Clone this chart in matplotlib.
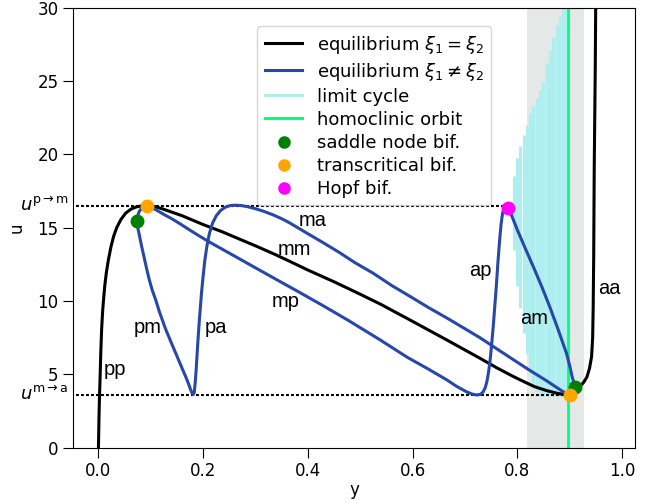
import numpy as np
import matplotlib
matplotlib.use("Agg")
import matplotlib.pyplot as plt

# equilibrium xi1 == xi2 (black)
sym_y = [0, 0.0005, 0.001, 0.002, 0.003, 0.0045, 0.006, 0.008, 0.010, 0.012,
         0.015, 0.019, 0.024, 0.029, 0.035, 0.043, 0.052, 0.062, 0.072, 0.082,
         0.091, 0.105, 0.12, 0.14, 0.16, 0.18, 0.20, 0.237, 0.27, 0.30,
         0.335, 0.365, 0.40, 0.45, 0.50, 0.54, 0.60, 0.664, 0.728, 0.76,
         0.792, 0.815, 0.833, 0.856, 0.878, 0.894, 0.902, 0.906, 0.910, 0.914,
         0.920, 0.926, 0.933, 0.938, 0.942, 0.944, 0.945, 0.946, 0.947, 0.949,
         0.950]
sym_u = [0, 1, 2, 3.5, 4.6, 6.5, 8.0, 9.3, 10.2, 11.0,
         11.9, 12.8, 13.7, 14.4, 15.0, 15.55, 15.98, 16.25, 16.4, 16.47,
         16.5, 16.45, 16.3, 16.05, 15.8, 15.5, 15.2, 14.7, 14.2, 13.75,
         13.2, 12.7, 12.1, 11.3, 10.45, 9.75, 8.6, 7.36, 6.1, 5.45,
         4.85, 4.45, 4.15, 3.88, 3.68, 3.6, 3.6, 3.65, 3.85, 4.05,
         4.2, 4.4, 4.8, 5.4, 6.2, 7.5, 9.5, 13, 19, 26,
         31]

# equilibrium xi1 != xi2, branch pm -> pa -> ma
asym1_y = [0.073, 0.075, 0.078, 0.082, 0.087, 0.092, 0.097, 0.103, 0.110, 0.116,
           0.122, 0.128, 0.135, 0.142, 0.148, 0.155, 0.161, 0.167, 0.172, 0.176,
           0.179, 0.181, 0.183, 0.185, 0.187, 0.189, 0.191, 0.193, 0.195, 0.197,
           0.200, 0.203, 0.207, 0.212, 0.218, 0.225, 0.233, 0.242, 0.252, 0.262,
           0.272, 0.285, 0.300, 0.316, 0.333, 0.35, 0.365, 0.38, 0.397, 0.43,
           0.46, 0.49, 0.524, 0.56, 0.60, 0.63, 0.665, 0.70, 0.729, 0.76,
           0.792, 0.82, 0.856, 0.875, 0.89, 0.901]
asym1_u = [15.46, 15.0, 14.5, 13.8, 13.0, 12.2, 11.45, 10.7, 10.0, 9.3,
           8.7, 8.1, 7.5, 6.9, 6.4, 5.8, 5.3, 4.8, 4.35, 3.95,
           3.7, 3.62, 3.75, 4.5, 5.5, 6.7, 7.8, 8.8, 9.7, 10.6,
           11.7, 12.7, 13.7, 14.6, 15.3, 15.8, 16.15, 16.38, 16.5, 16.52,
           16.5, 16.42, 16.28, 16.1, 15.87, 15.6, 15.32, 15.0, 14.64, 13.95,
           13.3, 12.6, 11.9, 11.05, 10.2, 9.55, 8.84, 8.1, 7.48, 6.75,
           6.0, 5.35, 4.55, 4.1, 3.75, 3.58]

# equilibrium xi1 != xi2, branch mp -> ap -> am
asym2_y = [0.073, 0.075, 0.078, 0.082, 0.087, 0.092, 0.098, 0.104, 0.115, 0.127,
           0.14, 0.156, 0.173, 0.19, 0.21, 0.23, 0.25, 0.275, 0.30, 0.34,
           0.383, 0.43, 0.478, 0.537, 0.59, 0.63, 0.665, 0.685, 0.703, 0.714,
           0.7224, 0.730, 0.735, 0.739, 0.742, 0.745, 0.748, 0.751, 0.754, 0.757,
           0.760, 0.763, 0.766, 0.769, 0.772, 0.776, 0.780, 0.783, 0.79, 0.80,
           0.815, 0.831, 0.847, 0.862, 0.878, 0.894, 0.900, 0.905, 0.911]
asym2_u = [15.46, 15.8, 16.1, 16.3, 16.42, 16.46, 16.42, 16.32, 16.1, 15.85,
           15.6, 15.25, 14.86, 14.48, 14.05, 13.65, 13.25, 12.75, 12.25, 11.45,
           10.6, 9.65, 8.65, 7.36, 6.15, 5.35, 4.62, 4.15, 3.8, 3.64,
           3.58, 3.63, 3.8, 4.1, 4.5, 5.1, 5.9, 7.0, 8.2, 9.6,
           11.0, 12.6, 14.0, 15.2, 16.0, 16.38, 16.4, 16.35, 15.75, 14.85,
           13.6, 12.3, 10.95, 9.6, 8.05, 6.42, 5.6, 4.8, 4.1]

# limit cycle extent (min/max u) per parameter value
lc_y = [0.793, 0.799, 0.805, 0.812, 0.818, 0.824, 0.831, 0.837, 0.843,
        0.849, 0.856, 0.862, 0.868, 0.875, 0.881, 0.887, 0.894]
lc_lo = [13.5, 11.0, 9.5, 7.8, 6.4, 5.0, 4.2, 3.85, 3.5,
         3.5, 3.5, 3.5, 3.5, 3.5, 3.5, 3.5, 3.5]
lc_hi = [18.5, 19.75, 20.55, 21.3, 22.0, 22.8, 23.3, 23.8, 24.4,
         24.9, 26.2, 27.1, 28.0, 28.8, 29.4, 30.5, 30.5]

homoclinic_y = 0.8975
region_y = [0.818, 0.927]

# bifurcation points
sn_y = [0.073, 0.911]
sn_u = [15.46, 4.1]
tc_y = [0.092, 0.901]
tc_u = [16.46, 3.58]
hopf_y = [0.783]
hopf_u = [16.35]

u_pm = 16.5
u_ma = 3.6

branch_names = ["pp", "pm", "pa", "ma", "mm", "mp", "ap", "am", "aa"]
branch_y = [0.031, 0.095, 0.224, 0.409, 0.374, 0.358, 0.729, 0.832, 0.976]
branch_u = [5.3, 8.2, 8.2, 15.45, 13.5, 9.94, 12.05, 8.8, 10.85]

blue = "#2748a8"

fig = plt.figure(figsize=(6.57, 5.04), dpi=100)
ax = fig.add_axes([0.1116, 0.1121, 0.855, 0.873])

ax.axvspan(region_y[0], region_y[1], color="#e4e9e8", lw=0, zorder=0)
ax.vlines(lc_y, lc_lo, lc_hi, color="paleturquoise", lw=2.3, zorder=1)
ax.axvline(homoclinic_y, color="springgreen", lw=2, zorder=2)

ax.plot([-0.1, hopf_y[0]], [u_pm, u_pm], color="black", lw=1.5,
        ls=(0, (1.4, 1)), zorder=2)
ax.plot([-0.1, tc_y[1]], [u_ma, u_ma], color="black", lw=1.5,
        ls=(0, (1.4, 1)), zorder=2)

ax.plot(sym_y, sym_u, color="black", lw=2.2, zorder=3)
ax.plot(asym1_y, asym1_u, color=blue, lw=2.2, zorder=3)
ax.plot(asym2_y, asym2_u, color=blue, lw=2.2, zorder=3)

ax.plot(sn_y, sn_u, "o", color="green", ms=9, zorder=5)
ax.plot(tc_y, tc_u, "o", color="orange", ms=9, zorder=5)
ax.plot(hopf_y, hopf_u, "o", color="magenta", ms=9, zorder=5)

for name, x, y in zip(branch_names, branch_y, branch_u):
    ax.text(x, y, name, ha="center", va="center", fontsize=14.5,
            family="Liberation Sans")

ax.set_xlim(-0.048, 1.025)
ax.set_ylim(0, 30)
ax.set_xticks([0.0, 0.2, 0.4, 0.6, 0.8, 1.0])
ax.set_xticklabels(["0.0", "0.2", "0.4", "0.6", "0.8", "1.0"])
ax.set_yticks([0, 5, 10, 15, 20, 25, 30])
ax.tick_params(labelsize=12, length=7, pad=3.5)

# threshold labels on the u axis
trans = ax.get_yaxis_transform()
ax.text(-0.008, u_pm, r"$u^{\mathrm{p}\rightarrow\mathrm{m}}$", transform=trans,
        ha="right", va="center", fontsize=13)
ax.text(-0.008, u_ma, r"$u^{\mathrm{m}\rightarrow\mathrm{a}}$", transform=trans,
        ha="right", va="center", fontsize=13)

ax.set_xlabel("y", fontsize=12, labelpad=1)
ax.set_ylabel("u", fontsize=12)
ax.yaxis.set_label_coords(-0.085, 0.5)

# legend proxies
h = [
    plt.Line2D([], [], color="black", lw=2.2),
    plt.Line2D([], [], color=blue, lw=2.2),
    plt.Line2D([], [], color="paleturquoise", lw=2.2),
    plt.Line2D([], [], color="springgreen", lw=2.2),
    plt.Line2D([], [], color="green", marker="o", ls="", ms=8),
    plt.Line2D([], [], color="orange", marker="o", ls="", ms=8),
    plt.Line2D([], [], color="magenta", marker="o", ls="", ms=8),
]
labels = [r"equilibrium $\xi_1 = \xi_2$", r"equilibrium $\xi_1 \neq \xi_2$",
          "limit cycle", "homoclinic orbit", "saddle node bif.",
          "transcritical bif.", "Hopf bif."]
ax.legend(h, labels, loc="upper left", bbox_to_anchor=(0.3276, 0.957),
          borderaxespad=0, fontsize=13, handlelength=2.1, labelspacing=0.28)

fig.savefig("out.png", dpi=100)
